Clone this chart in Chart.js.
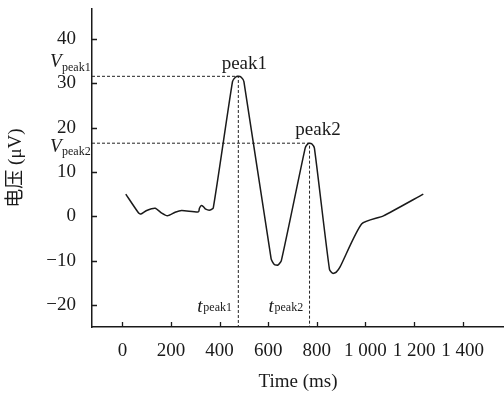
<!DOCTYPE html>
<html><head><meta charset="utf-8">
<script src="https://cdn.jsdelivr.net/npm/chart.js@4/dist/chart.umd.min.js"></script>
<style>html,body{margin:0;padding:0;background:#fff;}#wrap{width:504px;height:394px;position:relative;}</style>
</head><body><div id="wrap"><canvas id="c"></canvas></div>
<script>
// ---- data ----
const timeMs  = [14, 66, 76, 100, 135, 162, 185, 217, 244, 313, 317, 324, 333, 343, 361, 374, 453, 465, 477, 489, 500, 612, 625, 640, 654, 752, 762, 770, 780, 790, 852, 866, 880, 895, 985, 1074, 1238];
const voltage = [5.0, 0.8, 0.5, 1.3, 1.8, 0.7, 0.1, 0.9, 1.3, 1.0, 1.8, 2.4, 2.2, 1.6, 1.4, 1.9, 30.4, 31.4, 31.6, 31.4, 30.4, -9.6, -10.9, -11.0, -10.0, 15.4, 16.3, 16.5, 16.3, 15.4, -12.0, -12.9, -12.6, -11.5, -1.7, 0.1, 5.0];
const xTickValues = [0, 200, 400, 600, 800, 1000, 1200, 1400];
const xTickLabels = ['0', '200', '400', '600', '800', '1 000', '1 200', '1 400'];
const yTickValues = [-20, -10, 0, 10, 20, 30, 40];
const yTickLabels = ['\u221220', '\u221210', '0', '10', '20', '30', '40'];
const peakNames  = ['peak1', 'peak2'];
const peakTimes  = [477, 770];
const peakValues = [31.6, 16.5];
const xRange = [-125, 1570];
const yRange = [-25, 46.8];
const xTitle = 'Time (ms)';
const yTitle = '电压 (μV)';

const SERIF = "'Liberation Serif', 'Noto Sans CJK SC', serif";
const INK = '#1a1a1a';

const mainData = timeMs.map((t, i) => ({x: t, y: voltage[i]}));
const guideSets = peakTimes.map((t, i) => ({
  data: [{x: xRange[0], y: peakValues[i]}, {x: t, y: peakValues[i]}, {x: t, y: yRange[0]}],
  borderColor: '#222', borderWidth: 1, borderDash: [3, 2], pointRadius: 0, tension: 0, fill: false
}));

const annot = {
  id: 'annot',
  afterDraw(chart) {
    const ctx = chart.ctx, xs = chart.scales.x, ys = chart.scales.y;
    const area = chart.chartArea;
    ctx.save();
    ctx.strokeStyle = INK; ctx.lineWidth = 1.3;
    // inward tick marks
    ctx.beginPath();
    xTickValues.forEach(v => { const p = Math.round(xs.getPixelForValue(v)) + 0.5; ctx.moveTo(p, area.bottom); ctx.lineTo(p, area.bottom - 5); });
    yTickValues.forEach(v => { const p = Math.round(ys.getPixelForValue(v)) + 0.5; ctx.moveTo(area.left, p); ctx.lineTo(area.left + 5, p); });
    ctx.stroke();
    ctx.fillStyle = INK;
    const lblOff = [{dx: 6, dy: -7}, {dx: 8.5, dy: -8}];
    const vOff = [{dy: -9, sdy: -5}, {dy: 9, sdy: 12}];
    peakNames.forEach((name, i) => {
      const px = xs.getPixelForValue(peakTimes[i]);
      const py = ys.getPixelForValue(peakValues[i]);
      ctx.font = '19px ' + SERIF; ctx.textAlign = 'center'; ctx.textBaseline = 'alphabetic';
      ctx.fillText(name, px + lblOff[i].dx, py + lblOff[i].dy);
      // V_peak label
      ctx.textAlign = 'left';
      ctx.font = 'italic 19px ' + SERIF;
      ctx.fillText('V', area.left - 42, py + vOff[i].dy);
      ctx.font = '12px ' + SERIF;
      ctx.fillText(name, area.left - 30, py + vOff[i].sdy);
      // t_peak label
      ctx.font = 'italic 19px ' + SERIF;
      ctx.fillText('t', px - 41, area.bottom - 15);
      ctx.font = '12px ' + SERIF;
      ctx.fillText(name, px - 35, area.bottom - 16);
    });
    ctx.restore();
  }
};

new Chart(document.getElementById('c'), {
  type: 'line',
  data: {
    datasets: [
      {data: mainData, borderColor: INK, borderWidth: 1.5, pointRadius: 0, tension: 0.2, fill: false},
      ...guideSets
    ]
  },
  options: {
    responsive: true, maintainAspectRatio: false, animation: false,
    layout: {padding: {top: 9, right: 0, left: 0, bottom: 0}},
    plugins: {legend: {display: false}, tooltip: {enabled: false}},
    scales: {
      x: {
        type: 'linear', min: xRange[0], max: xRange[1],
        afterBuildTicks: s => { s.ticks = xTickValues.map(v => ({value: v})); },
        afterFit: s => { s.height = 67; s.paddingLeft = 0; s.paddingRight = 0; },
        grid: {display: true, drawOnChartArea: false, drawTicks: false},
        border: {display: true, color: INK, width: 1.5},
        ticks: {padding: 13, color: INK, font: {family: SERIF, size: 19}, maxRotation: 0, autoSkip: false,
          callback: (v) => { const i = xTickValues.indexOf(v); return i >= 0 ? xTickLabels[i] : ''; }},
        title: {display: true, text: xTitle, color: INK, font: {family: SERIF, size: 19}, padding: {top: 0, bottom: 1}}
      },
      y: {
        type: 'linear', min: yRange[0], max: yRange[1],
        afterBuildTicks: s => { s.ticks = yTickValues.map(v => ({value: v})); },
        afterFit: s => { s.width = 92; s.paddingTop = 0; s.paddingBottom = 0; },
        grid: {display: true, drawOnChartArea: false, drawTicks: false},
        border: {display: true, color: INK, width: 1.5},
        ticks: {padding: 16, color: INK, font: {family: SERIF, size: 19}, autoSkip: false,
          callback: (v) => { const i = yTickValues.indexOf(v); return i >= 0 ? yTickLabels[i] : ''; }},
        title: {display: true, text: yTitle, color: INK, font: {family: SERIF, size: 19}, padding: {top: 5, bottom: 0}}
      }
    }
  },
  plugins: [annot]
});
</script></body></html>
